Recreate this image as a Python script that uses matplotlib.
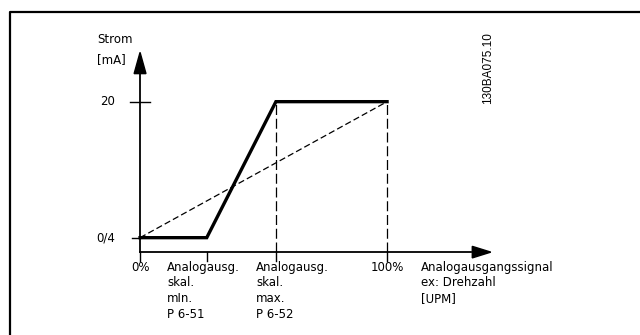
import matplotlib
matplotlib.use("Agg")
import matplotlib.pyplot as plt
from matplotlib.patches import Polygon

# Data (x in % of signal, y in mA level)
x_pts = [0, 27, 55, 100]          # 0%, skal. min, skal. max, 100%
y_thick = [4, 4, 20, 20]          # output current curve
x_dash = [0, 100]
y_dash = [4, 20]
y_ticks = [4, 20]
y_tick_labels = ["0/4", "20"]
x_labels = ["0%", "Analogausg.\nskal.\nmIn.\nP 6-51", "Analogausg.\nskal.\nmax.\nP 6-52", "100%"]

fig = plt.figure(figsize=(6.4, 3.35), dpi=100)
ax = fig.add_axes([0, 0, 1, 1])
ax.set_xlim(-56.7, 202.4)
ax.set_ylim(-7.45, 31.96)
ax.axis("off")

FS = 8.5
fam = "DejaVu Sans"
x_axis_y = 2.3
y_top = 25.8
x_right = 142.0

# border (left and top)
ax.plot([-52.6, -52.6, 205], [-10, 30.55, 30.55], color="black", lw=1.6, clip_on=False, solid_capstyle="butt")

# axes lines
ax.plot([0, 0], [x_axis_y, y_top - 2.5], color="black", lw=1.3)
ax.plot([0, x_right - 8], [x_axis_y, x_axis_y], color="black", lw=1.3)
# arrowheads
ax.add_patch(Polygon([[0, y_top], [-2.4, y_top - 2.5], [2.4, y_top - 2.5]], closed=True, color="black"))
ax.add_patch(Polygon([[x_right, x_axis_y], [x_right - 7.5, x_axis_y + 0.68], [x_right - 7.5, x_axis_y - 0.68]], closed=True, color="black"))

# y ticks
ax.plot([-4, 4], [20, 20], color="black", lw=1.0)
ax.plot([-3.2, 0], [4, 4], color="black", lw=1.0)

# x ticks
for xv in x_pts:
    ax.plot([xv, xv], [x_axis_y, x_axis_y - 1.0], color="black", lw=1.0)

# dashed vertical guides
for xv in x_pts[2:]:
    ax.plot([xv, xv], [x_axis_y, 20], color="black", lw=0.9, dashes=(8, 3))

# dashed diagonal
ax.plot(x_dash, y_dash, color="black", lw=0.9, dashes=(5, 2.5))

# thick curve
ax.plot(x_pts, y_thick, color="black", lw=2.4, solid_joinstyle="miter")

# y labels
for yv, lab in zip(y_ticks, y_tick_labels):
    ax.text(-10, yv, lab, ha="right", va="center", fontsize=FS, family=fam)
ax.text(-17.4, 27.26, "Strom", ha="left", va="center", fontsize=FS, family=fam)
ax.text(-17.4, 24.9, "[mA]", ha="left", va="center", fontsize=FS, family=fam)

# x labels
label_y = 1.3
LS = 1.28
ax.text(0, label_y, x_labels[0], ha="center", va="top", fontsize=FS, family=fam)
ax.text(10.9, label_y, x_labels[1], ha="left", va="top", fontsize=FS, family=fam, linespacing=LS)
ax.text(47.0, label_y, x_labels[2], ha="left", va="top", fontsize=FS, family=fam, linespacing=LS)
ax.text(100, label_y, x_labels[3], ha="center", va="top", fontsize=FS, family=fam)
ax.text(113.8, label_y, "Analogausgangssignal\nex: Drehzahl\n[UPM]", ha="left", va="top",
        fontsize=FS, family=fam, linespacing=LS)

# figure id
ax.text(141.0, 24.0, "130BA075.10", rotation=90, ha="center", va="center", fontsize=8.5,
        family="Liberation Sans")

fig.savefig("out.png", dpi=100)
